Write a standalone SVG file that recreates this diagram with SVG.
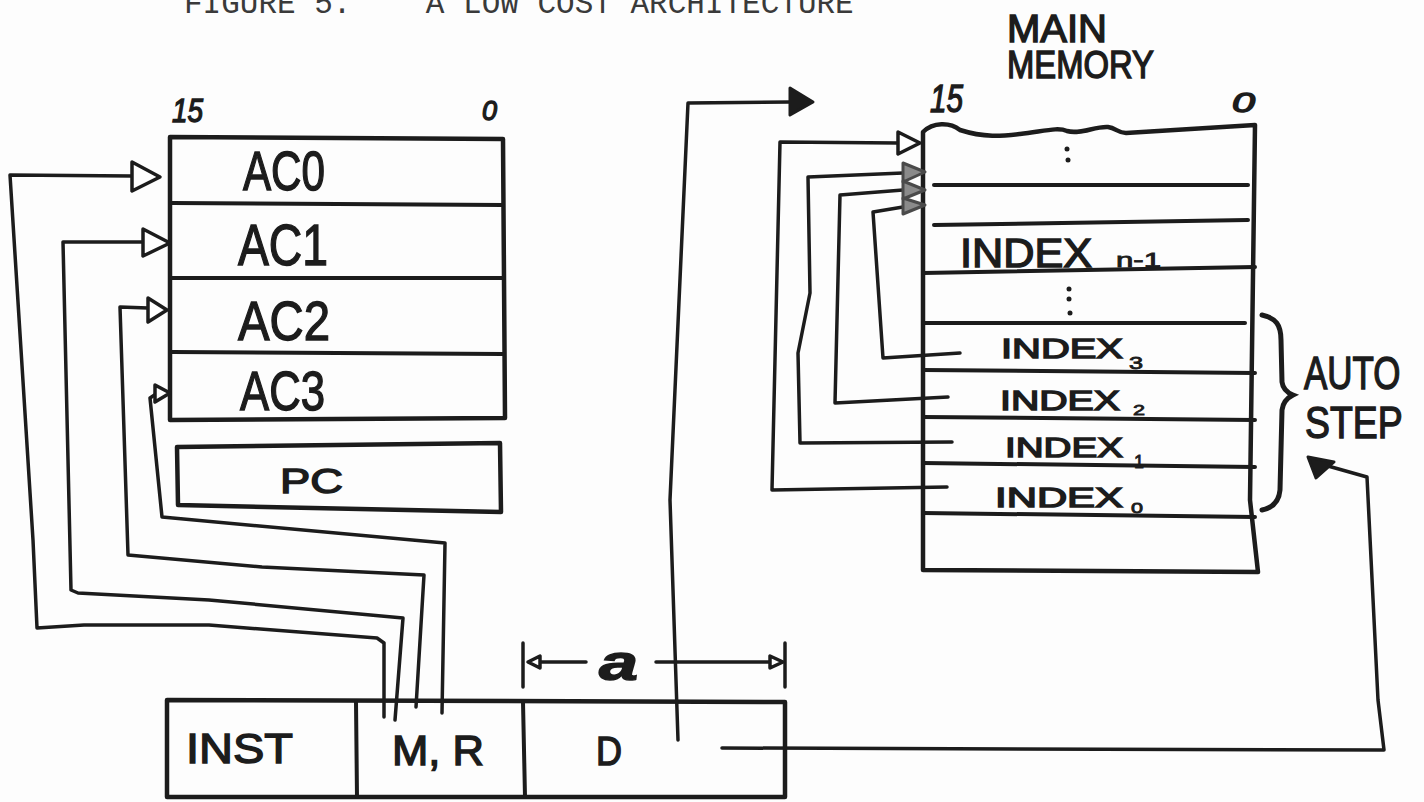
<svg xmlns="http://www.w3.org/2000/svg" width="1424" height="802" viewBox="0 0 1424 802">
<style>
.box{fill:none;stroke:#1c1c1c;stroke-width:4.5;stroke-linejoin:round;stroke-linecap:round}
.ln{fill:none;stroke:#1c1c1c;stroke-width:4;stroke-linecap:round}
.cn{fill:none;stroke:#1c1c1c;stroke-width:3.5;stroke-linejoin:round;stroke-linecap:round}
.ah{fill:#ffffff;stroke:#1c1c1c;stroke-width:3.5;stroke-linejoin:round}
.ahg{fill:#8a8a8a;stroke:#4a4a4a;stroke-width:3;stroke-linejoin:round}
.ahf{fill:#1c1c1c;stroke:#1c1c1c;stroke-width:3;stroke-linejoin:round}
.hand{font-family:"Liberation Sans",Arial,sans-serif;fill:#1c1c1c;stroke:#1c1c1c;stroke-width:1.4}
.thin{stroke-width:0.8}
.it{font-style:italic}
.title{font-family:"Liberation Mono","Courier New",monospace;fill:#3a3a3a}
</style>
<rect x="0" y="0" width="1424" height="802" fill="#fdfdfd"/>

<text class="title" x="184" y="13" font-size="31" xml:space="preserve">FIGURE 5.    A LOW COST ARCHITECTURE</text>

<g id="accumulators">
  <path class="box" d="M170,137 L503,139 L505,418 L170,420 Z"/>
  <path class="ln" d="M172,203 L503,205"/>
  <path class="ln" d="M172,278 L503,278"/>
  <path class="ln" d="M172,352 L503,354"/>
  <text class="hand it" x="172" y="122" font-size="33" textLength="31" lengthAdjust="spacingAndGlyphs">15</text>
  <text class="hand it" x="482" y="120" font-size="28" textLength="15" lengthAdjust="spacingAndGlyphs">0</text>
  <text class="hand" x="243" y="190" font-size="55" textLength="82" lengthAdjust="spacingAndGlyphs">AC0</text>
  <text class="hand" x="238" y="265" font-size="58" textLength="90" lengthAdjust="spacingAndGlyphs">AC1</text>
  <text class="hand" x="238" y="340" font-size="56" textLength="92" lengthAdjust="spacingAndGlyphs">AC2</text>
  <text class="hand" x="240" y="410" font-size="56" textLength="85" lengthAdjust="spacingAndGlyphs">AC3</text>
</g>

<g id="pc">
  <path class="box" d="M177,447 L500,443 L501,512 L178,505 Z"/>
  <text class="hand" x="280" y="493" font-size="35" textLength="63" lengthAdjust="spacingAndGlyphs">PC</text>
</g>

<g id="main-memory">
  <text class="hand" font-size="38"><tspan x="1007" y="42" textLength="100" lengthAdjust="spacingAndGlyphs">MAIN</tspan><tspan x="1007" y="78" textLength="147" lengthAdjust="spacingAndGlyphs">MEMORY</tspan></text>
  <text class="hand it" x="930" y="112" font-size="38" textLength="33" lengthAdjust="spacingAndGlyphs">15</text>
  <text class="hand it" x="1232" y="112" font-size="27" textLength="23" lengthAdjust="spacingAndGlyphs">0</text>
  <path class="box" d="M923,132 C933,122 950,122 960,130 C985,138 1002,136 1020,134 C1045,131 1058,127 1067,131 C1080,135 1095,126 1108,127 C1116,128 1118,133 1126,133 L1255,125 L1250,500 L1258,572 L923,570 Z"/>
  <path class="ln" d="M934,185 L1248,185"/>
  <path class="ln" d="M934,225 L1248,220"/>
  <path class="ln" d="M923,273 L1255,267"/>
  <path class="ln" d="M923,323 L1245,323"/>
  <path class="ln" d="M923,370 L1255,373"/>
  <path class="ln" d="M923,417 L1255,420"/>
  <path class="ln" d="M923,463 L1255,467"/>
  <path class="ln" d="M923,513 L1255,517"/>
  <circle cx="1067" cy="149" r="2.5" fill="#1c1c1c"/>
  <circle cx="1068" cy="160" r="2.5" fill="#1c1c1c"/>
  <circle cx="1069" cy="289" r="2.5" fill="#1c1c1c"/>
  <circle cx="1069" cy="299" r="2.5" fill="#1c1c1c"/>
  <circle cx="1070" cy="313" r="2.5" fill="#1c1c1c"/>
  <text class="hand" x="960" y="267" font-size="40" textLength="132" lengthAdjust="spacingAndGlyphs">INDEX</text>
  <text class="hand thin" x="1116" y="267" font-size="20" textLength="45" lengthAdjust="spacingAndGlyphs">n-1</text>
  <text class="hand" x="1001" y="358" font-size="28" textLength="122" lengthAdjust="spacingAndGlyphs">INDEX</text>
  <text class="hand thin" x="1129" y="369" font-size="16" textLength="14" lengthAdjust="spacingAndGlyphs">3</text>
  <text class="hand" x="1000" y="410" font-size="28" textLength="120" lengthAdjust="spacingAndGlyphs">INDEX</text>
  <text class="hand thin" x="1133" y="415" font-size="15" textLength="12" lengthAdjust="spacingAndGlyphs">2</text>
  <text class="hand" x="1005" y="457" font-size="28" textLength="118" lengthAdjust="spacingAndGlyphs">INDEX</text>
  <text class="hand thin" x="1134" y="468" font-size="18" textLength="9">1</text>
  <text class="hand" x="995" y="507" font-size="28" textLength="128" lengthAdjust="spacingAndGlyphs">INDEX</text>
  <text class="hand thin" x="1131" y="513" font-size="15" textLength="12" lengthAdjust="spacingAndGlyphs">0</text>
</g>

<g id="auto-step">
  <path d="M1262,315 C1276,318 1281,325 1281,340 L1282,382 C1283,390 1288,393 1293,395 C1287,398 1283,402 1282,410 L1280,490 C1279,502 1272,508 1262,510" fill="none" stroke="#1c1c1c" stroke-width="5" stroke-linecap="round"/>
  <text class="hand" transform="translate(1304,389) scale(0.76,1)" x="0" y="0" font-size="46">AUTO</text>
  <text class="hand" transform="translate(1305,438) scale(0.85,1)" x="0" y="0" font-size="44">STEP</text>
</g>

<g id="instruction">
  <path class="box" d="M167,700 L785,702 L785,797 L167,797 Z"/>
  <path class="ln" d="M356,702 L357,797"/>
  <path class="ln" d="M523,702 L525,797"/>
  <text class="hand" x="186" y="763" font-size="42" textLength="107" lengthAdjust="spacingAndGlyphs">INST</text>
  <text class="hand" x="392" y="765" font-size="42" textLength="92" lengthAdjust="spacingAndGlyphs">M, R</text>
  <text class="hand" x="596" y="765" font-size="40" textLength="26" lengthAdjust="spacingAndGlyphs">D</text>
</g>

<g id="field-width">
  <path class="cn" d="M523,643 L523,687"/>
  <path class="cn" d="M785,643 L785,687"/>
  <path class="cn" d="M586,662 L538,662"/>
  <polygon class="ah" points="528,662 540,656 540,668" stroke-width="2.5"/>
  <path class="cn" d="M656,662 L770,662"/>
  <polygon class="ah" points="783,662 770,656 770,668" stroke-width="2.5"/>
  <text class="hand it" x="599" y="680" font-size="50" font-weight="bold" fill="#555" stroke="#555" textLength="39" lengthAdjust="spacingAndGlyphs">a</text>
</g>

<g id="connectors">
  <path class="cn" d="M384,717 L384,643 L377,638 L209,625 L84,625 L37,628 L33,540 L10,175 L132,176"/>
  <polygon class="ah" points="132,162 160,177 132,191"/>
  <path class="cn" d="M395,720 L403,618 L209,600 L78,593 L71,590 L63,242 L143,242"/>
  <polygon class="ah" points="143,229 170,243 143,256"/>
  <path class="cn" d="M416,707 L424,575 L262,567 L128,555 L120,307 L148,308"/>
  <polygon class="ah" points="148,298 167,310 148,322"/>
  <path class="cn" d="M442,713 L445,543 L162,517 L150,398 L156,394"/>
  <polygon class="ah" points="155,385 170,393 155,402" stroke-width="3"/>

  <path class="cn" d="M678,740 L670,500 L688,103 L790,102"/>
  <polygon class="ahf" points="790,88 813,102 790,115"/>

  <path class="cn" d="M722,748 L1384,750 L1378,700 L1367,477 L1328,466"/>
  <polygon class="ahf" points="1308,457 1334,462 1316,478"/>

  <path class="cn" d="M947,487 L772,490 L780,142 L898,143"/>
  <polygon class="ah" points="898,132 920,143 898,154"/>
  <path class="cn" d="M952,442 L800,443 L798,353 L810,293 L808,177 L903,173"/>
  <polygon class="ahg" points="903,163 925,172 903,182"/>
  <path class="cn" d="M948,397 L835,403 L840,195 L903,190"/>
  <polygon class="ahg" points="903,181 925,190 903,199"/>
  <path class="cn" d="M960,353 L883,358 L873,212 L903,207"/>
  <polygon class="ahg" points="903,198 925,205 903,214"/>
</g>
</svg>
